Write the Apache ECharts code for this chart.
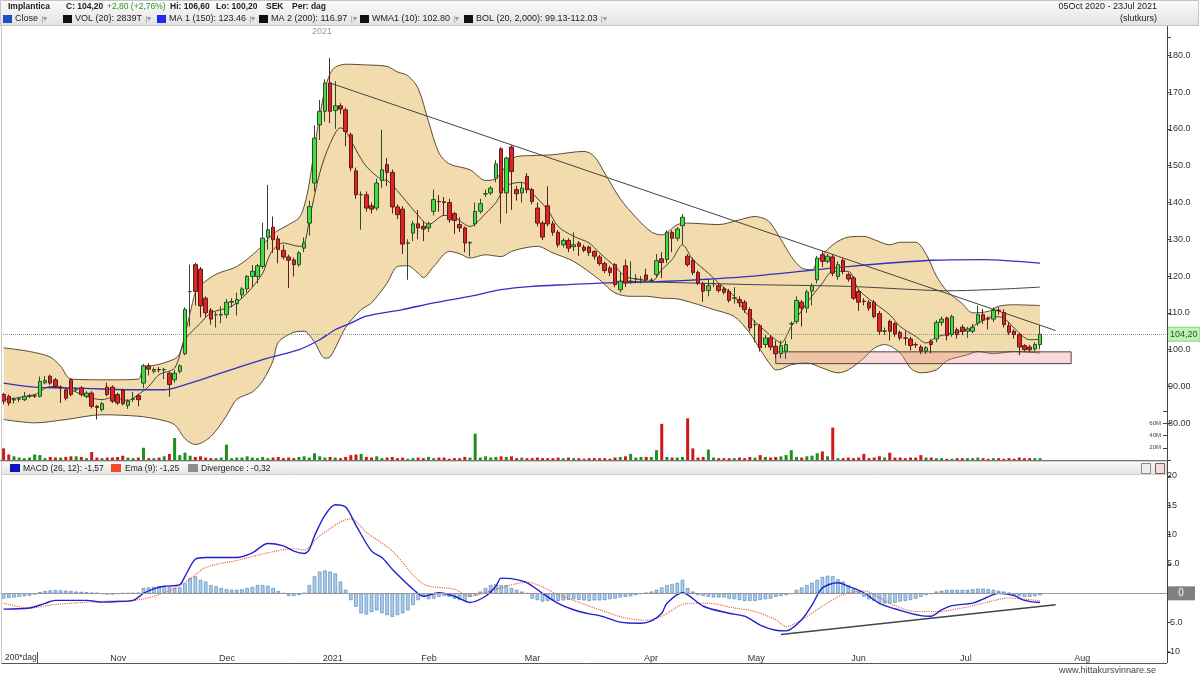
<!DOCTYPE html>
<html>
<head>
<meta charset="utf-8">
<script src="https://cdn.jsdelivr.net/npm/echarts/dist/echarts.min.js"></script>
<style>
  html, body { margin: 0; padding: 0; background: #fff; }
  #main { width: 1200px; height: 675px; }
</style>
</head>
<body>
<div id="main"></div>
<script>
// slot count of the time axis (201 trading days + empty space up to Aug)
var slotCount = 225;
var categories = [];
for (var i = 0; i < slotCount; i++) categories.push(String(i));

var monthStarts = [20, 41, 61, 80, 100, 123, 143, 163, 184, 206];
var monthLabels = ['Nov', 'Dec', '2021', 'Feb', 'Mar', 'Apr', 'May', 'Jun', 'Jul', 'Aug'];

// daily candles [open, close, low, high], 05 Oct 2020 - 23 Jul 2021
var candles = [
  [87.8,86.0,85.1,88.3],[87.3,85.5,84.8,87.8],[86.3,86.5,85.3,87.0],[86.5,86.6,85.8,87.2],[86.4,87.3,86.0,88.5],
  [87.3,87.5,86.8,88.0],[87.4,87.4,86.9,87.9],[87.3,91.4,87.0,92.7],[91.0,91.6,90.6,92.8],[92.8,90.9,90.4,93.2],
  [91.8,90.0,89.5,92.3],[89.6,89.6,85.5,90.3],[89.1,86.8,86.2,89.6],[91.8,87.8,87.3,92.3],[89.1,89.3,88.5,89.8],
  [89.6,87.8,87.3,90.1],[87.3,88.2,86.8,88.7],[88.2,84.6,84.0,88.7],[84.6,84.3,81.0,85.0],[83.7,85.3,83.2,85.8],
  [89.8,87.8,87.3,91.0],[89.8,86.0,85.5,90.3],[87.8,85.5,85.0,88.3],[88.9,85.3,84.8,89.4],[84.8,86.0,83.9,86.5],
  [86.5,86.7,85.8,88.5],[87.5,86.4,84.6,88.0],[90.9,95.6,89.5,96.1],[95.6,94.7,93.0,96.3],[94.1,94.6,93.5,95.2],
  [94.6,94.5,93.8,95.3],[94.5,94.6,92.0,95.0],[93.6,90.5,87.2,94.0],[91.8,93.6,91.0,94.5],[94.1,95.6,93.5,96.0],
  [98.9,110.9,98.5,111.5],[115.8,115.8,106.3,123.1],[123.1,115.8,112.0,123.6],[121.9,111.9,108.8,122.5],[114.0,110.0,108.8,114.5],
  [110.7,108.3,106.8,111.3],[109.5,109.5,106.0,110.3],[109.4,109.6,107.2,111.8],[109.5,112.9,108.5,113.8],[112.9,113.1,111.5,114.0],
  [112.5,113.6,109.3,115.5],[114.9,116.5,114.0,117.0],[116.5,119.9,115.5,120.3],[119.9,121.3,117.0,123.0],[119.9,122.8,118.0,123.3],
  [122.6,130.3,122.0,134.5],[130.6,132.6,127.2,144.8],[133.3,129.9,126.3,136.2],[130.1,127.2,123.5,131.0],[127.0,125.2,124.5,128.5],
  [125.2,124.3,116.8,125.8],[124.4,123.1,119.9,125.0],[123.1,126.3,122.5,126.8],[127.6,129.0,126.5,130.5],[134.4,138.9,131.0,140.5],
  [145.3,157.5,143.0,161.0],[161.1,164.8,157.0,167.9],[164.8,172.5,162.0,173.5],[172.5,164.8,161.6,179.3],[165.0,166.3,160.0,173.0],
  [166.3,165.4,164.0,167.0],[165.2,159.3,155.3,165.8],[158.4,149.4,148.5,159.0],[148.6,142.1,141.0,149.5],[142.1,142.2,132.6,143.0],
  [142.1,138.5,137.5,143.0],[139.1,138.2,137.0,140.0],[138.5,145.3,137.8,146.5],[146.0,148.9,144.0,159.8],[150.3,148.2,144.5,152.1],
  [148.2,138.8,137.0,149.0],[138.8,136.7,135.5,139.5],[138.2,128.7,126.0,139.0],[128.9,129.0,119.0,130.0],[131.7,134.2,129.5,135.0],
  [134.2,133.1,130.0,138.0],[133.5,132.8,129.5,135.0],[133.1,134.2,132.0,134.8],[137.6,140.8,136.5,143.5],[140.3,140.2,137.5,142.0],
  [140.2,140.0,136.5,141.5],[140.0,135.3,134.5,141.0],[137.0,135.1,131.5,137.5],[134.0,133.1,132.0,136.0],[133.1,129.0,126.5,133.5],
  [129.0,129.1,125.3,129.5],[134.2,137.6,133.5,140.0],[137.6,139.7,137.0,141.0],[142.3,142.4,141.5,143.5],[142.6,143.9,142.0,144.5],
  [146.6,150.5,145.5,151.5],[154.6,142.6,134.3,155.0],[142.6,152.1,137.0,152.5],[155.1,148.4,138.0,155.5],[143.5,142.4,140.5,144.5],
  [142.6,143.9,140.0,145.5],[147.1,143.5,142.5,148.0],[143.5,140.3,139.5,144.0],[138.5,134.4,133.5,140.0],[134.4,130.6,129.8,135.0],
  [139.1,134.2,133.5,144.4],[134.2,131.9,131.0,135.0],[131.9,128.5,127.8,132.5],[128.5,129.7,127.8,130.3],[129.7,127.6,126.5,130.3],
  [128.0,128.5,126.8,131.9],[129.0,128.1,125.5,129.5],[127.9,127.0,126.5,128.5],[127.9,126.4,125.5,128.3],[126.7,125.4,124.5,127.0],
  [125.2,123.4,122.8,125.8],[123.4,121.5,120.8,124.0],[122.2,121.0,120.0,122.8],[123.1,117.7,117.0,123.5],[116.3,118.6,115.5,121.0],
  [122.8,118.1,117.0,124.5],[118.6,118.6,117.8,124.0],[119.2,119.3,118.0,120.5],[119.0,119.1,118.0,120.0],[120.3,119.0,118.5,122.0],
  [118.8,118.9,118.3,119.5],[120.4,124.2,119.5,126.0],[124.7,123.7,119.5,126.5],[124.5,131.9,123.5,132.4],[131.9,130.3,126.5,132.5],
  [130.3,132.8,129.5,133.3],[133.7,136.0,128.5,136.8],[125.4,123.1,122.5,126.0],[124.3,121.0,120.3,125.0],[121.0,118.1,117.5,121.5],
  [117.9,115.9,113.0,118.5],[116.1,117.4,114.5,119.0],[117.9,118.0,117.0,119.0],[117.4,116.1,115.5,118.0],[116.5,115.6,115.0,117.0],
  [115.8,113.4,112.8,116.5],[114.0,114.1,112.5,117.0],[113.6,112.7,111.5,114.5],[112.9,110.9,110.0,113.5],[110.9,105.9,105.0,111.5],
  [106.8,106.8,102.0,108.0],[106.5,100.5,99.5,107.0],[101.4,103.2,100.5,104.0],[103.2,100.7,99.8,104.0],[100.9,98.9,97.7,102.5],
  [98.9,101.1,97.7,102.5],[99.6,101.4,97.5,102.5],[107.0,107.1,102.8,107.7],[107.7,113.4,107.0,114.5],[112.9,111.3,106.3,113.5],
  [111.3,115.7,110.0,116.3],[115.9,117.4,112.0,118.0],[119.0,124.9,118.0,125.5],[125.8,124.0,122.5,126.8],[124.0,125.4,123.5,126.0],
  [125.2,120.8,120.0,125.8],[119.9,123.1,119.0,124.0],[124.3,121.3,120.5,124.8],[120.4,119.2,118.5,121.0],[119.5,114.0,113.5,120.0],
  [115.8,112.9,110.5,116.5],[113.2,113.1,112.0,114.0],[112.9,111.3,110.5,113.5],[112.9,109.0,108.5,113.5],[109.8,105.0,104.0,110.5],
  [105.0,105.1,104.0,106.0],[107.7,105.0,102.5,108.2],[107.1,104.3,103.5,107.5],[104.7,103.2,102.5,105.2],[103.2,103.1,101.2,105.0],
  [102.9,101.1,99.8,103.5],[101.4,101.3,100.5,102.0],[100.7,99.6,98.8,101.3],[99.6,100.5,98.8,101.0],[102.3,101.4,99.0,102.8],
  [102.9,107.4,102.0,108.0],[107.4,108.3,106.5,109.0],[108.6,103.8,102.5,109.0],[104.1,109.0,103.5,109.5],[105.4,104.1,103.0,106.0],
  [106.1,105.0,104.0,106.8],[105.0,105.6,103.2,106.2],[105.0,106.1,104.5,107.0],[107.2,109.5,106.5,112.0],[109.5,108.0,107.0,111.0],
  [108.4,108.3,105.5,109.0],[108.3,110.7,107.5,111.5],[110.7,110.6,109.5,111.5],[110.1,106.8,106.0,111.0],[106.5,104.7,104.0,107.5],
  [105.0,104.1,103.0,105.5],[104.1,100.7,98.5,104.5],[101.1,100.0,99.5,101.5],[100.7,100.0,99.3,101.3],[100.2,101.4,99.6,102.0],
  [101.4,104.2,100.2,106.6]
];

// daily volume, millions
var volume = [
  19,9,6,4,3,4,9,8,3,5, 4,4,5,6,6,5,3,13,4,3, 4,4,5,7,4,3,4,20,3,3, 4,6,10,36,8,12,7,5,6,4,
  3,3,4,25,3,4,4,6,4,3, 5,3,4,5,3,4,3,5,6,4, 11,6,4,5,4,3,5,8,9,10, 5,4,6,3,4,5,3,4,2,3,
  4,3,5,3,4,4,2,3,3,5, 4,43,4,6,4,5,6,5,6,3, 4,3,3,4,3,3,3,4,3,4, 3,3,2,3,3,3,3,2,4,5,
  6,10,4,5,5,5,16,59,5,4, 4,5,68,19,4,5,17,4,3,3, 3,3,4,3,5,4,8,5,4,5, 6,8,16,5,4,6,7,11,14,6,
  53,3,3,4,3,4,10,3,4,6, 4,12,4,4,3,4,4,8,4,4, 3,3,2,2,3,3,3,3,4,3, 2,3,3,2,3,2,4,3,3,3, 3
];

// indicator lines read at [day, value]
var bolUpper = [[0,100.5],[5,99.5],[9,98.0],[11,95.5],[13,92.0],[20,91.8],[26,92.0],[27,95.0],[30,96.0],[33,97.5],[34,99.0],[35,104.0],[36,110.0],[37,115.5],[38,117.5],[41,120.5],[45,122.6],[49,127.0],[52,131.5],[55,134.0],[57,135.8],[58,139.0],[59,145.3],[60,155.0],[61,163.4],[62,170.7],[63,175.0],[64,176.8],[66,177.6],[70,177.4],[74,177.0],[76,175.5],[78,174.5],[80,171.0],[82,162.0],[84,153.5],[86,150.5],[90,148.9],[93,146.0],[95,146.5],[97,150.0],[99,152.5],[103,152.8],[106,153.0],[112,153.9],[114,152.5],[116,148.0],[119,141.0],[122,136.0],[125,132.0],[127,131.2],[130,134.0],[132,134.4],[138,134.0],[142,135.3],[145,136.2],[147,135.5],[148,134.4],[150,130.0],[152,125.3],[154,122.2],[156,121.7],[157,124.0],[160,128.5],[163,130.6],[166,130.8],[168,129.9],[171,128.5],[173,129.2],[176,129.2],[178,126.0],[180,120.0],[182,116.0],[185,112.5],[187,110.0],[190,110.4],[192,111.8],[195,112.2],[200,112.0]];
var bolLower = [[0,81.0],[6,80.1],[12,81.0],[19,82.3],[26,81.9],[30,81.0],[33,79.6],[35,75.8],[37,74.2],[40,76.4],[43,82.0],[45,86.5],[48,88.5],[50,91.5],[52,97.0],[53,102.0],[56,104.7],[58,105.0],[60,102.0],[62,97.7],[63,98.0],[66,106.0],[69,110.9],[71,112.7],[74,118.1],[76,122.6],[78,122.8],[80,120.8],[81,119.6],[83,122.6],[86,126.7],[88,126.1],[90,124.9],[93,125.8],[96,125.3],[98,126.7],[100,127.5],[103,128.1],[106,126.3],[110,124.0],[115,119.0],[118,115.4],[121,114.5],[124,114.5],[127,114.0],[130,113.8],[133,112.7],[137,110.9],[141,109.0],[144,104.5],[146,100.0],[148,95.9],[149,94.5],[150,94.7],[152,95.9],[155,96.4],[158,95.0],[161,93.7],[163,94.5],[166,97.7],[168,100.4],[170,101.4],[173,99.1],[175,95.0],[177,93.7],[180,94.5],[182,97.0],[186,98.6],[188,99.5],[191,98.9],[195,99.5],[200,99.1]];
var wma10 = [[0,86.4],[6,87.8],[9,90.0],[12,89.6],[16,87.3],[19,86.4],[21,87.0],[24,86.2],[26,87.8],[28,90.0],[30,93.2],[33,95.0],[35,102.7],[38,107.2],[40,110.0],[44,111.8],[47,115.4],[50,120.8],[51,124.5],[52,127.2],[54,129.0],[57,128.1],[58,128.5],[59,135.3],[61,148.0],[63,156.0],[65,160.3],[66,159.5],[68,154.3],[70,149.8],[73,146.2],[74,146.0],[77,141.5],[80,136.5],[82,134.0],[85,136.5],[87,136.0],[90,133.5],[93,137.0],[95,140.0],[97,144.5],[100,145.5],[102,142.6],[105,138.0],[107,133.5],[110,130.8],[113,129.0],[115,126.3],[118,122.6],[120,119.9],[123,119.0],[125,118.5],[127,121.7],[129,124.5],[131,128.5],[133,124.5],[136,120.8],[138,118.1],[141,114.5],[143,110.5],[146,106.3],[149,102.7],[150,101.8],[152,106.3],[155,112.7],[158,118.1],[160,121.3],[163,121.3],[165,116.3],[168,112.7],[171,109.5],[173,106.3],[176,103.6],[178,101.8],[180,103.4],[183,104.5],[186,105.4],[188,107.2],[191,109.0],[193,108.6],[195,105.9],[198,102.7],[200,102.8]];
var ma150 = [[0,90.9],[6,89.8],[12,89.6],[19,89.3],[25,89.1],[31,89.1],[34,90.0],[38,91.8],[44,94.6],[51,97.7],[57,100.0],[61,102.7],[64,105.4],[67,107.2],[70,109.1],[77,110.9],[83,112.7],[90,114.5],[96,116.3],[102,117.2],[109,117.7],[115,118.1],[122,118.3],[128,118.6],[134,119.0],[144,119.9],[163,122.6],[179,124.3],[189,124.5],[200,123.5]];
var ma200 = [[118,118.6],[125,118.4],[144,117.7],[163,117.2],[176,116.3],[182,116.0],[190,116.3],[200,117.0]];

var macdLine = [[0,-2.7],[5,-2.5],[8,-1.7],[10,-1.2],[16,-1.2],[19,-1.5],[22,-1.4],[25,-1.2],[27,0],[29,0.75],[31,1.2],[34,1.5],[35,2.9],[37,5.8],[39,6.1],[45,6.1],[48,6.9],[51,8.5],[54,8.1],[56,7.2],[58,6.8],[59,7.5],[60,9.8],[62,13.3],[64,15.1],[66,14.7],[68,11.6],[71,7.2],[73,6.1],[75,4.1],[78,1.5],[79,0.7],[81,-0.5],[84,0.1],[87,-0.5],[90,-1.55],[93,-0.5],[95,1.2],[96,2.6],[98,2.5],[101,1.8],[104,0.0],[107,-1.7],[110,-2.8],[113,-3.5],[115,-3.8],[119,-4.9],[123,-5.1],[125,-4.7],[127,-3.4],[128,-1.7],[131,0.1],[135,-2.2],[140,-3.4],[143,-3.9],[146,-5.4],[149,-6.3],[151,-6.4],[154,-4.5],[156,-2.0],[158,0.9],[161,1.8],[163,1.2],[166,0.1],[169,-1.7],[173,-2.9],[177,-3.8],[179,-3.9],[181,-2.8],[183,-2.1],[187,-1.66],[189,-1.0],[192,0],[195,-0.4],[197,-1.2],[200,-1.57]];
var emaLine = [[0,-1.7],[5,-2.5],[10,-1.9],[18,-1.4],[26,-1.1],[31,0.1],[35,1.8],[39,4.4],[45,5.6],[51,6.9],[56,7.6],[58,7.4],[61,9.8],[67,12.7],[70,10.4],[75,7.2],[81,1.6],[87,0.7],[90,-0.5],[95,0.7],[101,1.9],[107,-0.2],[115,-2.8],[120,-4.2],[124,-4.6],[127,-3.9],[132,-1.7],[136,-1.7],[141,-2.5],[145,-3.1],[149,-4.5],[151,-5.7],[154,-4.5],[158,-2.2],[162,-0.2],[166,0.4],[171,-1.7],[176,-3.1],[180,-3.1],[185,-2.5],[189,-1.7],[194,-0.8],[197,-1.0],[200,-1.25]];
var divergence = [
  -0.9,-0.8,-0.7,-0.6,-0.5,-0.4,-0.2, 0.2,0.4,0.5,0.55,0.5,0.45,0.4,0.3, 0.25,0.2,0.1,0.05,-0.1,-0.2,
  -0.2,-0.1,0,0,0.05,0.1, 0.9,1.0,1.1,1.2,1.2,1.1,0.9,1.0, 1.7,2.6,2.9,2.3,2.0, 1.4,1.2,0.9,0.7,0.6,0.6,
  0.7,0.9,1.1,1.4,1.4,1.3, 0.9,0.4,0, -0.45,-0.45,-0.3,0.05, 1.4,2.9,3.7,3.9,3.7,3.4,2.0, 0.6,
  -1.15,-2.3,-3.4,-3.6,-3.2,-2.9,-3.4,-3.7,-4.0,-3.7,-3.4,-2.9,-2.0,-1.15,-0.6,
  -1.0,-0.9,-0.6,-0.45,-0.6,-0.9,-1.15,-1.3,-0.6,-0.3, 0.3,0.9,1.4,1.6,1.4,1.4,0.9,0.6,0.3,0,
  -0.9,-1.15,-1.4,-1.3,-1.2,-1.3,-1.2,-1.1,-1.0,-1.1,-1.2,-1.3,-1.2,-1.2,
  -1.15,-1.0,-0.9,-0.7,-0.6,-0.5,-0.3,-0.1, 0.1,0.3,0.6,1.0, 1.4,1.6,1.8,2.3,0.9,0.3,
  -0.3,-0.45,-0.6,-0.7,-0.7,-0.7,-0.9,-1.0,-1.15,-1.3,-1.3,-1.3,-1.15,-1.0,-0.9,-0.6,-0.45,-0.3,-0.1,
  0.6,1.0,1.4,1.8,2.3,2.8,3.0,2.9,2.4,2.0,1.4, 0.7,0.3,
  -0.6,-1.0,-1.3,-1.6,-1.7,-1.7,-1.6,-1.4,-1.3,-1.15,-0.9,-0.6,-0.3,-0.1,
  0.3,0.45,0.6,0.6,0.6,0.6,0.6,0.7,0.8,0.8,0.7,0.6,0.45,0.3,0.1, -0.3,-0.45,-0.6,-0.6,-0.5,-0.32
];

// drawn annotations
var lastClose = 104.2;
var priceTrend = [[63, 172.5], [203, 105.2]];
var macdTrend = [[150, -7.0], [203, -1.95]];
var supportZone = [[149, 99.4], [206, 96.2]];

var FONT = 'Liberation Sans, Arial, sans-serif';

var volumeData = volume.map(function (v, i) {
  var up = candles[i][1] >= candles[i][0];
  return { value: v, itemStyle: { color: up ? '#1f8f1f' : '#d01818' } };
});

function isMonthStart(idx) { return monthStarts.indexOf(idx) >= 0; }

var myChart = echarts.init(document.getElementById('main'), null, { renderer: 'canvas' });

function grad(a, b) {
  return new echarts.graphic.LinearGradient(0, 0, 0, 1, [
    { offset: 0, color: a }, { offset: 1, color: b }
  ]);
}

function txt(x, y, s, opt) {
  opt = opt || {};
  return {
    type: 'text', silent: true, z: 100,
    style: {
      x: x, y: y, text: s,
      fill: opt.fill || '#222',
      font: (opt.bold ? 'bold ' : '') + (opt.size || 9) + 'px ' + FONT,
      textAlign: opt.align || 'left', textVerticalAlign: 'middle',
      align: opt.align || 'left', verticalAlign: 'middle'
    }
  };
}
function box(x, y, w, h, fill, stroke) {
  return { type: 'rect', silent: true, z: 100, shape: { x: x, y: y, width: w, height: h },
    style: { fill: fill, stroke: stroke || null, lineWidth: 1 } };
}
function seg(x1, y1, x2, y2, color) {
  return { type: 'line', silent: true, z: 100, shape: { x1: x1, y1: y1, x2: x2, y2: y2 },
    style: { stroke: color, lineWidth: 1 } };
}

var legendTop = [
  { x: 3, c: '#1e4fc8', t: 'Close' },
  { x: 63, c: '#111', t: 'VOL (20): 2839T' },
  { x: 157, c: '#1d2cf0', t: 'MA 1 (150): 123.46' },
  { x: 259, c: '#111', t: 'MA 2 (200): 116.97' },
  { x: 360, c: '#111', t: 'WMA1 (10): 102.80' },
  { x: 464, c: '#111', t: 'BOL (20, 2,000): 99.13-112.03' }
];

var graphics = [
  box(0.5, 0.5, 1198, 25, grad('#fcfcfc', '#e2e2e2'), '#c4c4c4'),
  txt(8, 7, 'Implantica', { bold: true, size: 8.5 }),
  txt(66, 7, 'C: 104,20', { bold: true, size: 8.5 }),
  txt(107, 7, '+2,80 (+2,76%)', { fill: '#2a9a2a', size: 8.5 }),
  txt(170, 7, 'Hi: 106,60', { bold: true, size: 8.5 }),
  txt(216, 7, 'Lo: 100,20', { bold: true, size: 8.5 }),
  txt(266, 7, 'SEK', { bold: true, size: 8.5 }),
  txt(292, 7, 'Per: dag', { bold: true, size: 8.5 }),
  txt(1157, 7, '05Oct 2020 - 23Jul 2021', { align: 'right' }),
  txt(1157, 19, '(slutkurs)', { align: 'right' }),
  txt(322, 32, '2021', { fill: '#999', align: 'center' }),
  seg(1.5, 26, 1.5, 663, '#c8c8c8'),
  seg(1167.5, 26, 1167.5, 663, '#444'),
  seg(0, 460.5, 1167, 460.5, '#777'),
  box(1.5, 461.5, 1165, 13, grad('#fbfbfb', '#e3e3e3'), '#cfcfcf'),
  box(10, 464, 10, 8, '#1212c4'),
  txt(23, 468.5, 'MACD (26, 12): -1,57', { size: 8.5 }),
  box(111, 464, 10, 8, '#f04a2a'),
  txt(125, 468.5, 'Ema (9): -1,25', { size: 8.5 }),
  box(188, 464, 10, 8, '#8c8c8c'),
  txt(201, 468.5, 'Divergence : -0,32', { size: 8.5 }),
  box(1141.5, 463.5, 9, 10, '#eeeeee', '#8a8a8a'),
  box(1155.5, 463.5, 9, 10, '#f0dede', '#8a5a5a'),
  seg(1.5, 663.5, 1167, 663.5, '#555'),
  seg(37.5, 652, 37.5, 663, '#555'),
  txt(5, 657.5, '200*dag', { fill: '#333', size: 8.5 }),
  txt(1156, 671, 'www.hittakursvinnare.se', { align: 'right', fill: '#444' })
];
legendTop.forEach(function (it) {
  graphics.push(box(it.x, 15, 9, 8, it.c));
  graphics.push({
    type: 'text', silent: true, z: 100,
    style: {
      x: it.x + 12, y: 19, text: '{a|' + it.t + '} {b||▾}',
      textVerticalAlign: 'middle', verticalAlign: 'middle',
      rich: {
        a: { fill: '#222', color: '#222', font: '9px ' + FONT },
        b: { fill: '#999', color: '#999', font: '8px ' + FONT }
      }
    }
  });
});

function lineSeries(data, color, width, z, extra) {
  var s = {
    type: 'line', xAxisIndex: 0, yAxisIndex: 0, data: data,
    symbol: 'none', smooth: 0.3, silent: true, z: z,
    lineStyle: { color: color, width: width }
  };
  for (var k in extra) s[k] = extra[k];
  return s;
}

var option = {
  animation: false,
  backgroundColor: '#fff',
  textStyle: { fontFamily: FONT },
  grid: [
    { left: 1, right: 33, top: 37, height: 423 },
    { left: 1, right: 33, top: 411, height: 49 },
    { left: 1, right: 33, top: 476, height: 176 }
  ],
  xAxis: [
    { gridIndex: 0, type: 'category', data: categories, show: false },
    { gridIndex: 1, type: 'category', data: categories, show: false },
    {
      gridIndex: 2, type: 'category', data: categories,
      axisLine: { lineStyle: { color: '#555' } },
      axisTick: { alignWithLabel: true, interval: isMonthStart, length: 11, lineStyle: { color: '#555' } },
      axisLabel: {
        interval: isMonthStart, align: 'left', margin: 2, padding: [0, 0, 0, 3],
        fontSize: 9, color: '#333', fontFamily: FONT,
        formatter: function (v, idx) { var k = monthStarts.indexOf(idx); return k >= 0 ? monthLabels[k] : ''; }
      },
      splitLine: { show: false }
    }
  ],
  yAxis: [
    {
      gridIndex: 0, type: 'value', position: 'right', min: 70, max: 185, interval: 10,
      axisLine: { show: true, lineStyle: { color: '#444' } },
      axisTick: { show: true, length: 4, lineStyle: { color: '#444' } },
      splitLine: { show: false },
      axisLabel: {
        fontSize: 9, color: '#333', margin: 1, fontFamily: FONT,
        formatter: function (v) {
          if (v < 80 || v > 180) return '';
          return v >= 100 ? v.toFixed(1) : v.toFixed(2);
        }
      }
    },
    {
      gridIndex: 1, type: 'value', position: 'right', min: 0, max: 80, interval: 20,
      axisLine: { show: false },
      axisTick: { show: true, inside: true, length: 4, lineStyle: { color: '#444' } },
      splitLine: { show: false },
      axisLabel: {
        inside: true, fontSize: 6, color: '#444', margin: 6,
        formatter: function (v) { return (v > 0 && v < 80) ? v + 'M' : ''; }
      }
    },
    {
      gridIndex: 2, type: 'value', position: 'right', min: -10, max: 20, interval: 5,
      axisLine: { show: true, lineStyle: { color: '#444' } },
      axisTick: { show: true, length: 4, lineStyle: { color: '#444' } },
      splitLine: { show: false },
      axisLabel: {
        fontSize: 9, color: '#333', margin: 0, fontFamily: FONT,
        formatter: function (v) {
          if (v === 0) return '{z|0}';
          if (Math.abs(v) === 5) return v.toFixed(1);
          return String(v);
        },
        rich: { z: { backgroundColor: '#808080', color: '#fff', width: 28, height: 14, align: 'center', fontSize: 10 } }
      }
    }
  ],
  graphic: { elements: graphics },
  series: [
    lineSeries(bolUpper, '#5b4b35', 1, 1, { areaStyle: { color: '#f2dcae', opacity: 1, origin: 'start' } }),
    lineSeries(bolLower, '#5b4b35', 1, 2, { areaStyle: { color: '#ffffff', opacity: 1, origin: 'start' } }),
    lineSeries(wma10, '#4a4030', 1, 3),
    lineSeries(ma150, '#3030c4', 1.3, 3),
    lineSeries(ma200, '#444444', 1, 3),
    {
      type: 'bar', xAxisIndex: 1, yAxisIndex: 1, data: volumeData,
      barWidth: 3, silent: true, z: 3
    },
    {
      type: 'candlestick', xAxisIndex: 0, yAxisIndex: 0, data: candles,
      barWidth: 4, silent: true, z: 5,
      itemStyle: {
        color: '#3ee03e', color0: '#e02424',
        borderColor: '#2e4a2e', borderColor0: '#5a1c1c', borderWidth: 1
      },
      markLine: {
        silent: true, symbol: ['none', 'none'], animation: false,
        data: [
          {
            yAxis: lastClose,
            lineStyle: { color: '#8a9a8a', type: 'dotted', width: 1 },
            label: {
              show: true, position: 'end', distance: 1, formatter: '104,20',
              backgroundColor: '#bff0b8', borderColor: '#8ccf86', borderWidth: 1,
              color: '#1c5a1c', fontSize: 9, padding: [2, 2]
            }
          },
          [
            { coord: priceTrend[0], lineStyle: { color: '#444', width: 1, type: 'solid' }, label: { show: false } },
            { coord: priceTrend[1] }
          ]
        ]
      },
      markArea: {
        silent: true, z: 4,
        itemStyle: { color: 'rgba(240,150,150,0.35)', borderColor: '#444', borderWidth: 1 },
        data: [[{ coord: supportZone[0] }, { coord: supportZone[1] }]]
      }
    },
    {
      type: 'bar', xAxisIndex: 2, yAxisIndex: 2, data: divergence,
      barWidth: 3.5, silent: true, z: 2,
      itemStyle: { color: '#a8cdee', borderColor: '#4b7db0', borderWidth: 0.6 },
      markLine: {
        silent: true, symbol: ['none', 'none'],
        data: [{ yAxis: 0 }],
        lineStyle: { color: '#999', width: 1, type: 'solid' },
        label: { show: false }
      }
    },
    {
      type: 'line', xAxisIndex: 2, yAxisIndex: 2, data: emaLine,
      symbol: 'none', smooth: 0.3, silent: true, z: 3,
      lineStyle: { color: '#f05530', width: 1.1, type: 'dotted' }
    },
    {
      type: 'line', xAxisIndex: 2, yAxisIndex: 2, data: macdLine,
      symbol: 'none', smooth: 0.3, silent: true, z: 4,
      lineStyle: { color: '#1f1fcf', width: 1.4 },
      markLine: {
        silent: true, symbol: ['none', 'none'],
        data: [[{ coord: macdTrend[0] }, { coord: macdTrend[1] }]],
        lineStyle: { color: '#444', width: 1.5, type: 'solid' },
        label: { show: false }
      }
    }
  ]
};

myChart.setOption(option);
</script>
</body>
</html>
